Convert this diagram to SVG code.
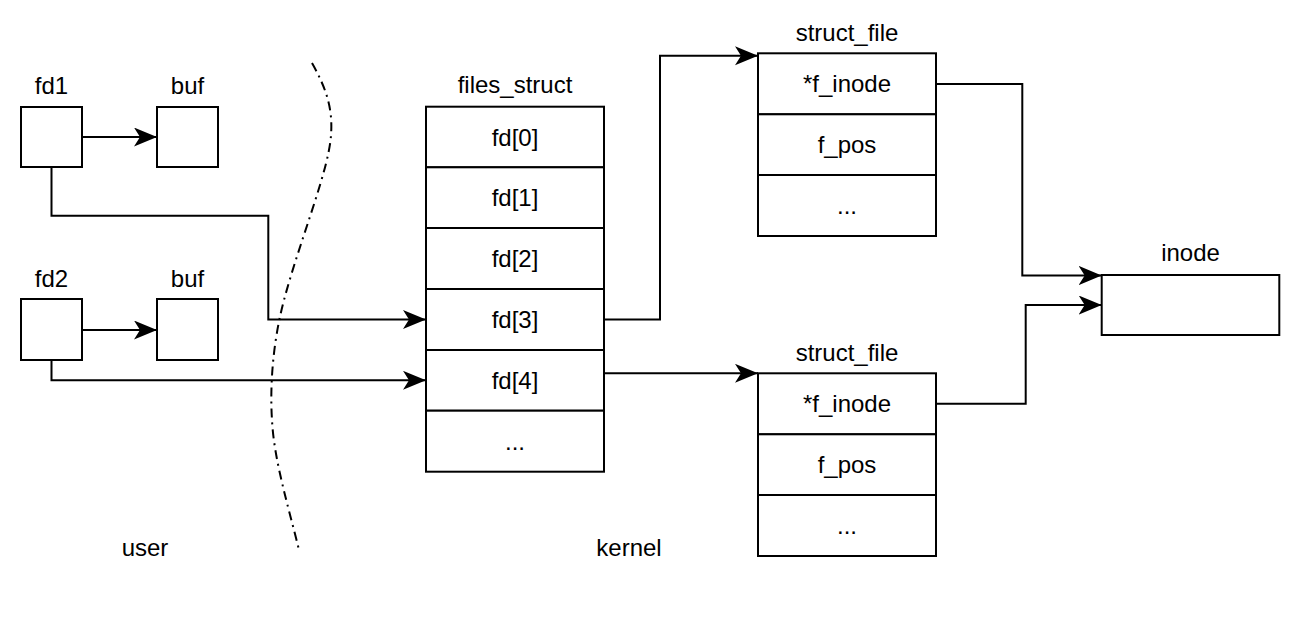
<svg xmlns="http://www.w3.org/2000/svg" width="1312" height="624" viewBox="0 0 1312 624">
<style>
.box{fill:#fff;stroke:#000;stroke-width:2}
.ln{fill:none;stroke:#000;stroke-width:2}
.t{font-family:"Liberation Sans",Arial,sans-serif;font-size:24px;fill:#000;text-anchor:middle}
.div{fill:none;stroke:#000;stroke-width:2;stroke-dasharray:9 5 2 5}
</style>
<defs>
<marker id="arr" markerUnits="userSpaceOnUse" markerWidth="24" markerHeight="20" refX="23" refY="9.5" orient="auto">
<path d="M0,0 L23,9.5 L0,19 L6,9.5 Z" fill="#000"/>
</marker>
</defs>
<rect width="1312" height="624" fill="#fff"/>

<g id="divider">
<path class="div" d="M312,63 C326,88 333,108 331,135 C329,170 300,240 284,300 C272,345 270,390 272,420 C274,460 288,505 299,550"/>
</g>

<g id="connectors">
<path class="ln" d="M82,137 L157,137" marker-end="url(#arr)"/>
<path class="ln" d="M82,330 L157,330" marker-end="url(#arr)"/>
<path class="ln" d="M51.5,167 L51.5,215.7 L268.3,215.7 L268.3,319.5 L426,319.5" marker-end="url(#arr)"/>
<path class="ln" d="M51.5,360 L51.5,380.3 L426,380.3" marker-end="url(#arr)"/>
<path class="ln" d="M604,319.5 L660,319.5 L660,55.7 L758,55.7" marker-end="url(#arr)"/>
<path class="ln" d="M604,373.3 L758,373.3" marker-end="url(#arr)"/>
<path class="ln" d="M936,84 L1022.3,84 L1022.3,275.5 L1101.7,275.5" marker-end="url(#arr)"/>
<path class="ln" d="M936,403.8 L1025.7,403.8 L1025.7,305 L1101.7,305" marker-end="url(#arr)"/>
</g>

<g id="fd1">
<rect class="box" x="21" y="107" width="61" height="60"/>
<text class="t" x="51.5" y="94">fd1</text>
</g>
<g id="buf1">
<rect class="box" x="157" y="107" width="61" height="60"/>
<text class="t" x="187.5" y="94">buf</text>
</g>
<g id="fd2">
<rect class="box" x="21" y="299" width="61" height="61"/>
<text class="t" x="51.5" y="287">fd2</text>
</g>
<g id="buf2">
<rect class="box" x="157" y="299" width="61" height="61"/>
<text class="t" x="187.5" y="287">buf</text>
</g>

<g id="files_struct">
<text class="t" x="515" y="93">files_struct</text>
<rect class="box" x="426" y="106.7" width="178" height="60.6"/>
<rect class="box" x="426" y="167.3" width="178" height="60.7"/>
<rect class="box" x="426" y="228" width="178" height="61"/>
<rect class="box" x="426" y="289" width="178" height="61"/>
<rect class="box" x="426" y="350" width="178" height="60.7"/>
<rect class="box" x="426" y="410.7" width="178" height="61"/>
<text class="t" x="515" y="145.5">fd[0]</text>
<text class="t" x="515" y="206.2">fd[1]</text>
<text class="t" x="515" y="267">fd[2]</text>
<text class="t" x="515" y="328">fd[3]</text>
<text class="t" x="515" y="388.8">fd[4]</text>
<text class="t" x="515" y="449.7">...</text>
</g>

<g id="struct_file_1">
<text class="t" x="847" y="41">struct_file</text>
<rect class="box" x="758" y="53.3" width="178" height="61"/>
<rect class="box" x="758" y="114.3" width="178" height="60.7"/>
<rect class="box" x="758" y="175" width="178" height="61"/>
<text class="t" x="847" y="92.3">*f_inode</text>
<text class="t" x="847" y="153.2">f_pos</text>
<text class="t" x="847" y="214">...</text>
</g>

<g id="struct_file_2">
<text class="t" x="847" y="361">struct_file</text>
<rect class="box" x="758" y="373.3" width="178" height="61"/>
<rect class="box" x="758" y="434.3" width="178" height="60.7"/>
<rect class="box" x="758" y="495" width="178" height="61"/>
<text class="t" x="847" y="412.3">*f_inode</text>
<text class="t" x="847" y="473.2">f_pos</text>
<text class="t" x="847" y="534">...</text>
</g>

<g id="inode">
<text class="t" x="1190.5" y="261">inode</text>
<rect class="box" x="1101.7" y="275" width="177.6" height="60"/>
</g>

<g id="labels">
<text class="t" x="145" y="556">user</text>
<text class="t" x="629" y="556">kernel</text>
</g>
</svg>
